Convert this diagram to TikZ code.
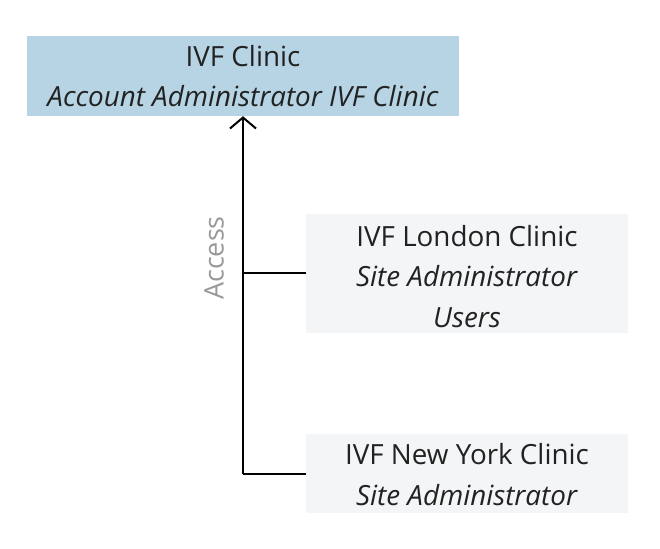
\documentclass[tikz,border=0pt]{standalone}
\usepackage{fontspec}
\setmainfont{Open Sans}
\usetikzlibrary{arrows.meta}
\definecolor{topfill}{HTML}{B6D4E4}
\definecolor{sitefill}{HTML}{F4F5F7}
\definecolor{txt}{HTML}{222222}
\definecolor{lbl}{HTML}{999999}
\begin{document}
\begin{tikzpicture}[x=1pt,y=-1pt,
  boxtext/.style={align=center,inner sep=0pt,text=txt,font=\fontsize{27.8}{40.5}\selectfont},
  conn/.style={line width=2pt,draw=black}]
\useasboundingbox (0,0) rectangle (660,548);
\node[boxtext,fill=topfill,minimum width=432pt,minimum height=80pt] (top) at (243,76) {};
\node[boxtext,anchor=base] (topt) at (243,107) {IVF Clinic\\\textit{Account Administrator IVF Clinic}};
\node[boxtext,fill=sitefill,minimum width=322pt,minimum height=119pt] (lon) at (467,273.5) {};
\node[boxtext,anchor=base] (lont) at (467,327) {IVF London Clinic\\\textit{Site Administrator}\\\textit{Users}};
\node[boxtext,fill=sitefill,minimum width=322pt,minimum height=79pt] (ny) at (467,473.5) {};
\node[boxtext,anchor=base] (nyt) at (467,505) {IVF New York Clinic\\\textit{Site Administrator}};
\coordinate (j1) at (243,273);
\coordinate (j2) at (243,474);
\draw[conn,-{Straight Barb[length=11pt,width=26pt,line width=2pt]}] (j2) -- (top.south);
\draw[conn] (j1) -- (lon.west |- j1);
\draw[conn] (j2) -- (ny.west |- j2);
\node[rotate=90,text=lbl,font=\fontsize{27}{30}\selectfont,inner sep=0pt] (acc) at (214,258) {Access};
\end{tikzpicture}
\end{document}
